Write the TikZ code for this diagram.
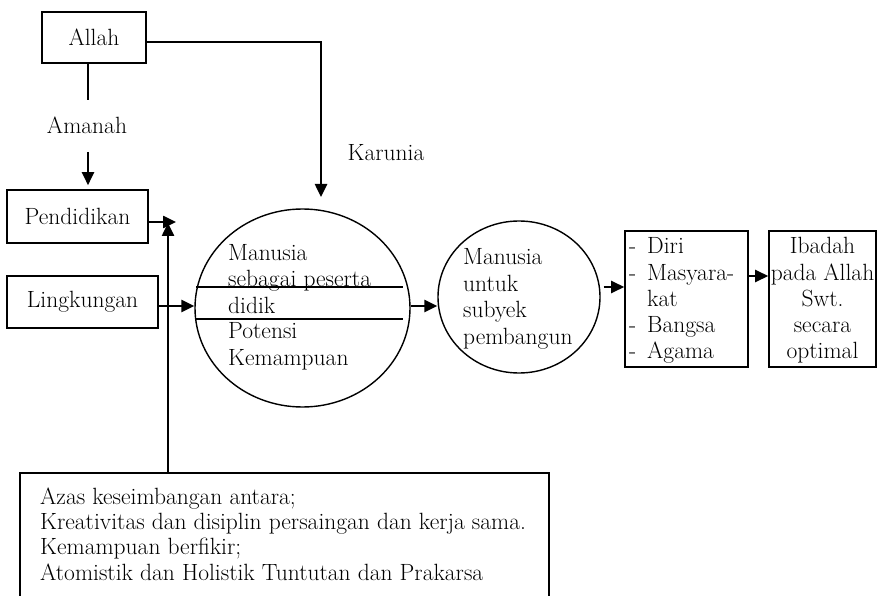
\documentclass[tikz,border=0pt]{standalone}
\usepackage{tikz}
\usetikzlibrary{arrows.meta, shapes.geometric}

\begin{document}
\begin{tikzpicture}[
    x=1pt, y=-1pt,
    every node/.style={font=\fontsize{23.5}{26}\selectfont, inner sep=0pt},
    kotak/.style={draw, line width=1.6pt},
    bulat/.style={draw, ellipse, line width=1.4pt},
    panah/.style={-{Triangle[length=13pt,width=12pt]}, line width=2.5pt},
    baris/.style={anchor=base west},
    tengah/.style={anchor=base}
]
\useasboundingbox (0,0) rectangle (878,596);

% kotak dan lingkaran
\node[kotak, minimum width=104pt, minimum height=51pt] (allah) at (94,37.5) {Allah};
\node (amanah) at (87,125) {Amanah};
\node (karunia) at (386,153) {Karunia};
\node[kotak, minimum width=141pt, minimum height=53pt] (pendidikan) at (77.5,216.5) {Pendidikan};
\node[kotak, minimum width=151pt, minimum height=52pt] (lingkungan) at (82.5,302) {Lingkungan};
\node[bulat, minimum width=215pt, minimum height=198pt] (peserta) at (302.5,308) {};
\node[bulat, minimum width=162pt, minimum height=152pt] (pembangun) at (519,297) {};
\node[kotak, minimum width=123pt, minimum height=136pt] (lingkup) at (686.5,299) {};
\node[kotak, minimum width=107pt, minimum height=136pt] (ibadah) at (822.5,299) {};
\node[kotak, minimum width=529pt, minimum height=150pt, anchor=north west] (azas) at (19,472) {};

% isi teks
\foreach \teks/\yy in {Manusia/260, sebagai peserta/286, didik/313, Potensi/338, Kemampuan/365}
    \node[baris] at (228,\yy) {\teks};
\foreach \teks/\yy in {Manusia/264, untuk/291, subyek/317, pembangun/344}
    \node[baris] at (463,\yy) {\teks};
\foreach \teks/\yy in {Diri/253, Masyara-/280, kat/306, Bangsa/332, Agama/358}
    \node[baris] at (647,\yy) {\teks};
\foreach \yy in {253, 280, 332, 358}
    \node[baris] at (629,\yy) {-};
\foreach \teks/\yy in {Ibadah/253, pada Allah/280, Swt./306, secara/332, optimal/358}
    \node[tengah] at (822.5,\yy) {\teks};
\foreach \teks/\yy in {Azas keseimbangan antara;/504,
    Kreativitas dan disiplin persaingan dan kerja sama./529,
    Kemampuan berfikir;/554,
    Atomistik dan Holistik Tuntutan dan Prakarsa/580}
    \node[baris] at (40,\yy) {\teks};

% garis dalam lingkaran
\draw[line width=1.4pt] (196,287) -- (403,287);
\draw[line width=1.4pt] (196,319) -- (403,319);

% penghubung
\coordinate (amanahatas) at (88,100);
\coordinate (amanahbawah) at (88,152);
\coordinate (karuniaujung) at (321,197);
\coordinate (pendujung) at (176,222);
\coordinate (naik) at (168,223);
\draw[line width=1.5pt] (allah.south -| amanahatas) -- (amanahatas);
\draw[panah, shorten >=4pt] (amanahbawah) -- (amanahbawah |- pendidikan.north);
\draw[panah] ([yshift=-4.5pt]allah.east) -| (karuniaujung);
\draw[panah] (pendidikan.east |- pendujung) -- (pendujung);
\draw[panah] (naik |- azas.north) -- (naik);
\draw[panah] ([yshift=-4pt]lingkungan.east) -- ([yshift=-4pt]lingkungan.east -| peserta.west);
\draw[panah] ([yshift=2pt]peserta.east) -- ([yshift=2pt]peserta.east -| pembangun.west);
\draw[panah] ([shift={(3pt,10pt)}]pembangun.east) -- ([yshift=10pt]pembangun.east -| lingkup.west);
\draw[panah] ([yshift=23pt]lingkup.east) -- ([yshift=23pt]lingkup.east -| ibadah.west);
\end{tikzpicture}
\end{document}
